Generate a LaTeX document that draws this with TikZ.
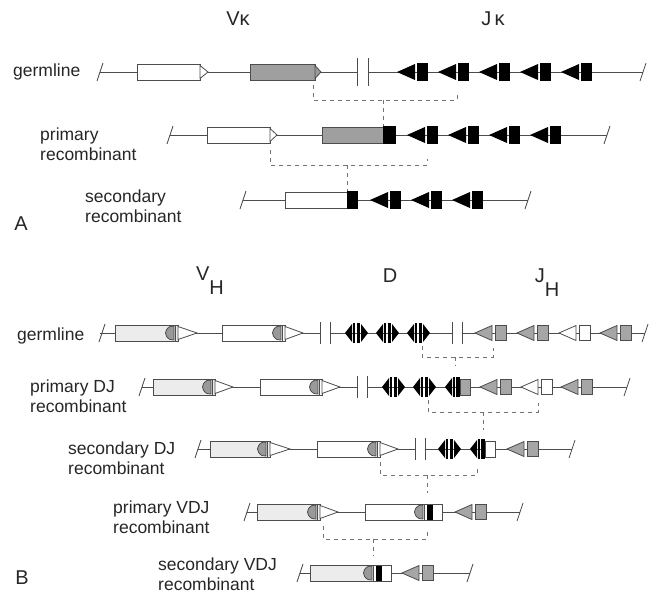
\documentclass[tikz,border=0pt]{standalone}
\usepackage{fontspec}
\setmainfont{Liberation Sans}
\usepackage{xcolor}
\usepackage{tikz}
\tikzstyle{gline} = [line width=0.8pt, draw=black!70]
\tikzstyle{joinline} = [line width=0.9pt, draw=black!55, dash pattern=on 4pt off 4pt]
\tikzstyle{rowlabel} = [anchor=west, align=left, inner sep=0pt, text=black!85, font=\fontsize{17.5}{20.5}\selectfont]
\tikzstyle{genelabel} = [inner sep=0pt, text=black!85, font=\fontsize{20}{24}\selectfont]

% row pieces, all in pixel units (x=1pt, y=-1pt)
\newcommand{\cutmark}[2]{\draw[gline] (#1-3,#2+9) -- (#1+3,#2-9);}
\newcommand{\gapmark}[3]{\draw[gline] (#1,#2-#3) -- (#1,#2+#3);}
\newcommand{\plainbox}[4]{\draw[gline, fill=#4] (#1,#3-8) rectangle (#2,#3+8);}
\newcommand{\rss}[4]{\draw[gline, fill=#4] (#1,#2-6.5) -- (#1+#3,#2) -- (#1,#2+6.5) -- cycle;}
\newcommand{\leader}[2]{%
  \draw[gline, fill=gray!80] (#1,#2-7) -- (#1-4,#2-6.5)
    .. controls (#1-10,#2-3) and (#1-10,#2+3) .. (#1-4,#2+6.5) -- (#1,#2+7) -- cycle;}
\newcommand{\vseg}[4]{% left, right, row, fill
  \draw[gline, fill=#4] (#1,#3-8) rectangle (#2,#3+8);
  \leader{#2-4}{#3}
  \draw[gline, line width=0.5pt] (#2-2.5,#3-8) -- (#2-2.5,#3+8);}
\newcommand{\vdjseg}[4]{% left, right, row, fill
  \fill[#4] (#1,#3-8) rectangle (#2-17.5,#3+8);
  \fill[white] (#2-17.5,#3-8) rectangle (#2,#3+8);
  \leader{#2-19}{#3}
  \draw[gline, line width=0.5pt] (#2-17.5,#3-8) -- (#2-17.5,#3+8);
  \fill[black] (#2-15,#3-8) rectangle (#2-9,#3+8);
  \draw[gline] (#1,#3-8) rectangle (#2,#3+8);}
\newcommand{\jkappa}[2]{%
  \fill[black] (#1,#2) -- (#1+18,#2-8) -- (#1+18,#2+8) -- cycle;
  \fill[black] (#1+20,#2-9) rectangle (#1+31,#2+9);}
\newcommand{\jhseg}[3]{%
  \draw[gline, fill=#3] (#1,#2) -- (#1+17,#2-7.5) -- (#1+17,#2+7.5) -- cycle;
  \draw[gline, fill=#3] (#1+20,#2-7.5) rectangle (#1+31,#2+7.5);}
\newcommand{\dseg}[2]{%
  \fill[black] (#1,#2) -- (#1+7,#2-9) -- (#1+7,#2+9) -- cycle;
  \fill[black] (#1+7.8,#2-10) rectangle (#1+10.3,#2+10);
  \fill[black] (#1+11.5,#2-10) rectangle (#1+15.2,#2+10);
  \fill[black] (#1+23,#2) -- (#1+16,#2-9) -- (#1+16,#2+9) -- cycle;}
\newcommand{\djseg}[3]{%
  \fill[black] (#1,#2) -- (#1+7,#2-9) -- (#1+7,#2+9) -- cycle;
  \fill[black] (#1+7.8,#2-10) rectangle (#1+10,#2+10);
  \fill[black] (#1+11,#2-10) rectangle (#1+15,#2+10);
  \draw[gline, fill=#3] (#1+15,#2-8) rectangle (#1+25,#2+8);}
% bracket: left foot x,y / right foot x,y / joined site x,y / level
\newcommand{\rejoin}[7]{%
  \draw[joinline] (#1,#2) -- (#1,#7) -- (#3,#7) -- (#3,#4);
  \draw[joinline] (#5,#7) -- (#5,#6);}

\begin{document}
\begin{tikzpicture}[x=1pt, y=-1pt]
\useasboundingbox (0,0) rectangle (657,595);

% Panel A: kappa locus
\node[genelabel] (vkappa) at (238,19) {Vκ};
\node[genelabel] (jkappa) at (493,19) {J\,κ};
\node[genelabel] (panelA) at (21,224) {A};

% germline
\node[rowlabel] (kgerm) at (13,72) {germline};
\draw[gline] (100,72) -- (357,72);
\draw[gline] (368,72) -- (643,72);
\cutmark{100}{72} \cutmark{643}{72}
\gapmark{357}{72}{14} \gapmark{368}{72}{14}
\plainbox{137}{200}{72}{white} \rss{200}{72}{8}{white}
\plainbox{250}{315}{72}{gray!75} \rss{315}{72}{6}{gray!80}
\foreach \x in {397,438,479,520,561} {\jkappa{\x}{72}}
\rejoin{313}{85}{457}{94}{383}{126}{100}

% primary recombinant
\node[rowlabel] (kprim) at (40,144) {primary\\recombinant};
\draw[gline] (170,135) -- (607,135);
\cutmark{170}{135} \cutmark{607}{135}
\plainbox{207}{270}{135}{white} \rss{270}{135}{7}{white}
\plainbox{322}{383}{135}{gray!75}
\fill[black] (383,126) rectangle (396,144);
\foreach \x in {407,448,489,530} {\jkappa{\x}{135}}
\rejoin{270}{150}{427}{159}{347}{191}{165}

% secondary recombinant
\node[rowlabel] (ksec) at (85,206) {secondary\\recombinant};
\draw[gline] (243,200) -- (528,200);
\cutmark{243}{200} \cutmark{528}{200}
\plainbox{285}{347}{200}{white}
\fill[black] (347,191) rectangle (358,209);
\foreach \x in {370,411,452} {\jkappa{\x}{200}}

% Panel B: heavy chain locus
\node[genelabel] (vheavy) at (210,281) {V\raisebox{-0.7em}{H}};
\node[genelabel] (dheavy) at (390,276) {D};
\node[genelabel] (jheavy) at (547,283) {J\raisebox{-0.7em}{H}};
\node[genelabel] (panelB) at (22,578) {B};

% germline
\node[rowlabel] (hgerm) at (17,336) {germline};
\draw[gline] (100,333) -- (320,333);
\draw[gline] (330,333) -- (452,333);
\draw[gline] (462,333) -- (645,333);
\cutmark{102}{333} \cutmark{645}{333}
\gapmark{320}{333}{11} \gapmark{330}{333}{11}
\gapmark{452}{333}{11} \gapmark{462}{333}{11}
\vseg{115}{178}{333}{gray!15} \rss{178}{333}{19}{white}
\vseg{222}{285}{333}{white} \rss{285}{333}{18}{white}
\foreach \x in {345,376,407} {\dseg{\x}{333}}
\jhseg{475}{333}{gray!70} \jhseg{517}{333}{gray!70}
\jhseg{559}{333}{white} \jhseg{600}{333}{gray!70}
\rejoin{422}{346}{493}{348}{455}{366}{357}

% primary DJ recombinant
\node[rowlabel] (hpdj) at (30,396) {primary DJ\\recombinant};
\draw[gline] (142,387) -- (357,387);
\draw[gline] (367,387) -- (627,387);
\cutmark{142}{387} \cutmark{627}{387}
\gapmark{357}{387}{11} \gapmark{367}{387}{11}
\vseg{153}{215}{387}{gray!15} \rss{215}{387}{18}{white}
\vseg{260}{322}{387}{white} \rss{322}{387}{18}{white}
\foreach \x in {382,413} {\dseg{\x}{387}}
\djseg{445}{387}{gray!70}
\jhseg{480}{387}{gray!70} \jhseg{521}{387}{white} \jhseg{561}{387}{gray!70}
\rejoin{428}{400}{538}{403}{483}{430}{412}

% secondary DJ recombinant
\node[rowlabel] (hsdj) at (68,458) {secondary DJ\\recombinant};
\draw[gline] (198,449) -- (415,449);
\draw[gline] (425,449) -- (572,449);
\cutmark{198}{449} \cutmark{572}{449}
\gapmark{415}{449}{11} \gapmark{425}{449}{11}
\vseg{210}{270}{449}{gray!15} \rss{270}{449}{20}{white}
\vseg{317}{380}{449}{white} \rss{380}{449}{18}{white}
\dseg{438}{449}
\djseg{470}{449}{white}
\jhseg{507}{449}{gray!70}
\rejoin{380}{462}{477}{466}{427}{493}{475}

% primary VDJ recombinant
\node[rowlabel] (hpvdj) at (113,517) {primary VDJ\\recombinant};
\draw[gline] (247,512) -- (520,512);
\cutmark{247}{512} \cutmark{520}{512}
\vseg{257}{320}{512}{gray!15} \rss{320}{512}{18}{white}
\vdjseg{365}{442}{512}{white}
\jhseg{455}{512}{gray!70}
\rejoin{323}{526}{427}{530}{373}{556}{539}

% secondary VDJ recombinant
\node[rowlabel] (hsvdj) at (158,574) {secondary VDJ\\recombinant};
\draw[gline] (300,573) -- (470,573);
\cutmark{300}{573} \cutmark{470}{573}
\vdjseg{310}{391}{573}{gray!15}
\jhseg{402}{573}{gray!70}

\end{tikzpicture}
\end{document}
